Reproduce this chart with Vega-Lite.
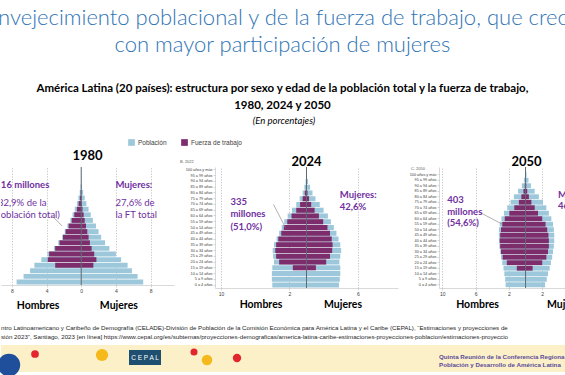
{
"$schema": "https://vega.github.io/schema/vega-lite/v6.json",
"background": "white",
"padding": {"left": -15, "top": 7, "right": 0, "bottom": 0},
"config": {
  "view": {"stroke": null},
  "font": "Lato",
  "axisX": {"grid": true, "gridDash": [1.2, 1.5], "gridColor": "#A0A0A0", "gridWidth": 0.6, "domainColor": "#BFBFBF", "domainWidth": 0.6, "tickColor": "#BFBFBF", "tickSize": 2, "tickWidth": 0.6, "labelFont": "Liberation Sans", "labelFontSize": 5, "labelColor": "#404040", "labelPadding": 1, "labelOverlap": false, "labelBound": false, "title": null, "labelExpr": "abs(datum.value)"},
  "axisY": {"grid": false, "domainColor": "#BFBFBF", "domainWidth": 0.6, "tickColor": "#BFBFBF", "tickSize": 2, "tickWidth": 0.6, "labelFont": "Liberation Sans", "labelFontSize": 3.8, "labelColor": "#404040", "labelPadding": 1, "labelOverlap": false, "title": null},
  "legend": {"orient": "none", "legendX": 127, "legendY": -28, "direction": "horizontal", "symbolType": "square", "symbolSize": 45, "symbolStrokeWidth": 0, "labelFont": "Liberation Sans", "labelFontSize": 6.5, "labelColor": "#404040", "columnPadding": 14, "labelOffset": 3, "padding": 0}
},
"datasets": {
  "pyr": [
{"anio":1980,"sexo":"Hombres","edad":"0 a 4 años","pob":-7.45,"ft":0},
{"anio":1980,"sexo":"Hombres","edad":"5 a 9 años","pob":-6.65,"ft":0},
{"anio":1980,"sexo":"Hombres","edad":"10 a 14 años","pob":-5.9,"ft":0},
{"anio":1980,"sexo":"Hombres","edad":"15 a 19 años","pob":-5.4,"ft":-3.0},
{"anio":1980,"sexo":"Hombres","edad":"20 a 24 años","pob":-4.6,"ft":-3.85},
{"anio":1980,"sexo":"Hombres","edad":"25 a 29 años","pob":-3.9,"ft":-3.7},
{"anio":1980,"sexo":"Hombres","edad":"30 a 34 años","pob":-3.15,"ft":-3.0},
{"anio":1980,"sexo":"Hombres","edad":"35 a 39 años","pob":-2.65,"ft":-2.5},
{"anio":1980,"sexo":"Hombres","edad":"40 a 44 años","pob":-2.2,"ft":-2.1},
{"anio":1980,"sexo":"Hombres","edad":"45 a 49 años","pob":-1.9,"ft":-1.8},
{"anio":1980,"sexo":"Hombres","edad":"50 a 54 años","pob":-1.6,"ft":-1.45},
{"anio":1980,"sexo":"Hombres","edad":"55 a 59 años","pob":-1.25,"ft":-1.1},
{"anio":1980,"sexo":"Hombres","edad":"60 a 64 años","pob":-1.0,"ft":-0.8},
{"anio":1980,"sexo":"Hombres","edad":"65 a 69 años","pob":-0.75,"ft":-0.5},
{"anio":1980,"sexo":"Hombres","edad":"70 a 74 años","pob":-0.5,"ft":-0.3},
{"anio":1980,"sexo":"Hombres","edad":"75 a 79 años","pob":-0.32,"ft":-0.15},
{"anio":1980,"sexo":"Hombres","edad":"80 a 84 años","pob":-0.17,"ft":-0.06},
{"anio":1980,"sexo":"Hombres","edad":"85 a 89 años","pob":-0.07,"ft":-0.02},
{"anio":1980,"sexo":"Hombres","edad":"90 a 94 años","pob":-0.02,"ft":0},
{"anio":1980,"sexo":"Hombres","edad":"95 a 99 años","pob":-0.01,"ft":0},
{"anio":1980,"sexo":"Hombres","edad":"100 años y más","pob":0,"ft":0},
{"anio":1980,"sexo":"Mujeres","edad":"0 a 4 años","pob":7.15,"ft":0},
{"anio":1980,"sexo":"Mujeres","edad":"5 a 9 años","pob":6.5,"ft":0},
{"anio":1980,"sexo":"Mujeres","edad":"10 a 14 años","pob":5.85,"ft":0},
{"anio":1980,"sexo":"Mujeres","edad":"15 a 19 años","pob":5.35,"ft":1.4},
{"anio":1980,"sexo":"Mujeres","edad":"20 a 24 años","pob":4.6,"ft":1.75},
{"anio":1980,"sexo":"Mujeres","edad":"25 a 29 años","pob":4.0,"ft":1.5},
{"anio":1980,"sexo":"Mujeres","edad":"30 a 34 años","pob":3.25,"ft":1.2},
{"anio":1980,"sexo":"Mujeres","edad":"35 a 39 años","pob":2.75,"ft":1.0},
{"anio":1980,"sexo":"Mujeres","edad":"40 a 44 años","pob":2.3,"ft":0.85},
{"anio":1980,"sexo":"Mujeres","edad":"45 a 49 años","pob":2.0,"ft":0.7},
{"anio":1980,"sexo":"Mujeres","edad":"50 a 54 años","pob":1.7,"ft":0.55},
{"anio":1980,"sexo":"Mujeres","edad":"55 a 59 años","pob":1.35,"ft":0.4},
{"anio":1980,"sexo":"Mujeres","edad":"60 a 64 años","pob":1.1,"ft":0.28},
{"anio":1980,"sexo":"Mujeres","edad":"65 a 69 años","pob":0.85,"ft":0.15},
{"anio":1980,"sexo":"Mujeres","edad":"70 a 74 años","pob":0.6,"ft":0.08},
{"anio":1980,"sexo":"Mujeres","edad":"75 a 79 años","pob":0.4,"ft":0.04},
{"anio":1980,"sexo":"Mujeres","edad":"80 a 84 años","pob":0.22,"ft":0.01},
{"anio":1980,"sexo":"Mujeres","edad":"85 a 89 años","pob":0.1,"ft":0},
{"anio":1980,"sexo":"Mujeres","edad":"90 a 94 años","pob":0.03,"ft":0},
{"anio":1980,"sexo":"Mujeres","edad":"95 a 99 años","pob":0.01,"ft":0},
{"anio":1980,"sexo":"Mujeres","edad":"100 años y más","pob":0,"ft":0},
{"anio":2024,"sexo":"Hombres","edad":"0 a 4 años","pob":-4.0,"ft":0},
{"anio":2024,"sexo":"Hombres","edad":"5 a 9 años","pob":-4.05,"ft":0},
{"anio":2024,"sexo":"Hombres","edad":"10 a 14 años","pob":-4.05,"ft":0},
{"anio":2024,"sexo":"Hombres","edad":"15 a 19 años","pob":-4.0,"ft":-1.6},
{"anio":2024,"sexo":"Hombres","edad":"20 a 24 años","pob":-3.8,"ft":-3.2},
{"anio":2024,"sexo":"Hombres","edad":"25 a 29 años","pob":-3.9,"ft":-3.55},
{"anio":2024,"sexo":"Hombres","edad":"30 a 34 años","pob":-3.95,"ft":-3.65},
{"anio":2024,"sexo":"Hombres","edad":"35 a 39 años","pob":-3.8,"ft":-3.55},
{"anio":2024,"sexo":"Hombres","edad":"40 a 44 años","pob":-3.5,"ft":-3.3},
{"anio":2024,"sexo":"Hombres","edad":"45 a 49 años","pob":-3.2,"ft":-2.95},
{"anio":2024,"sexo":"Hombres","edad":"50 a 54 años","pob":-2.9,"ft":-2.65},
{"anio":2024,"sexo":"Hombres","edad":"55 a 59 años","pob":-2.6,"ft":-2.25},
{"anio":2024,"sexo":"Hombres","edad":"60 a 64 años","pob":-2.2,"ft":-1.75},
{"anio":2024,"sexo":"Hombres","edad":"65 a 69 años","pob":-1.7,"ft":-1.2},
{"anio":2024,"sexo":"Hombres","edad":"70 a 74 años","pob":-1.2,"ft":-0.75},
{"anio":2024,"sexo":"Hombres","edad":"75 a 79 años","pob":-0.8,"ft":-0.45},
{"anio":2024,"sexo":"Hombres","edad":"80 a 84 años","pob":-0.45,"ft":-0.2},
{"anio":2024,"sexo":"Hombres","edad":"85 a 89 años","pob":-0.25,"ft":-0.07},
{"anio":2024,"sexo":"Hombres","edad":"90 a 94 años","pob":-0.1,"ft":-0.02},
{"anio":2024,"sexo":"Hombres","edad":"95 a 99 años","pob":-0.03,"ft":0},
{"anio":2024,"sexo":"Hombres","edad":"100 años y más","pob":-0.01,"ft":0},
{"anio":2024,"sexo":"Mujeres","edad":"0 a 4 años","pob":3.8,"ft":0},
{"anio":2024,"sexo":"Mujeres","edad":"5 a 9 años","pob":3.9,"ft":0},
{"anio":2024,"sexo":"Mujeres","edad":"10 a 14 años","pob":3.95,"ft":0},
{"anio":2024,"sexo":"Mujeres","edad":"15 a 19 años","pob":3.95,"ft":1.1},
{"anio":2024,"sexo":"Mujeres","edad":"20 a 24 años","pob":3.85,"ft":2.3},
{"anio":2024,"sexo":"Mujeres","edad":"25 a 29 años","pob":3.95,"ft":2.75},
{"anio":2024,"sexo":"Mujeres","edad":"30 a 34 años","pob":4.05,"ft":3.0},
{"anio":2024,"sexo":"Mujeres","edad":"35 a 39 años","pob":3.95,"ft":3.05},
{"anio":2024,"sexo":"Mujeres","edad":"40 a 44 años","pob":3.75,"ft":2.95},
{"anio":2024,"sexo":"Mujeres","edad":"45 a 49 años","pob":3.5,"ft":2.75},
{"anio":2024,"sexo":"Mujeres","edad":"50 a 54 años","pob":3.2,"ft":2.45},
{"anio":2024,"sexo":"Mujeres","edad":"55 a 59 años","pob":2.85,"ft":1.95},
{"anio":2024,"sexo":"Mujeres","edad":"60 a 64 años","pob":2.5,"ft":1.45},
{"anio":2024,"sexo":"Mujeres","edad":"65 a 69 años","pob":2.0,"ft":0.95},
{"anio":2024,"sexo":"Mujeres","edad":"70 a 74 años","pob":1.55,"ft":0.55},
{"anio":2024,"sexo":"Mujeres","edad":"75 a 79 años","pob":1.05,"ft":0.3},
{"anio":2024,"sexo":"Mujeres","edad":"80 a 84 años","pob":0.7,"ft":0.12},
{"anio":2024,"sexo":"Mujeres","edad":"85 a 89 años","pob":0.42,"ft":0.05},
{"anio":2024,"sexo":"Mujeres","edad":"90 a 94 años","pob":0.18,"ft":0.01},
{"anio":2024,"sexo":"Mujeres","edad":"95 a 99 años","pob":0.06,"ft":0},
{"anio":2024,"sexo":"Mujeres","edad":"100 años y más","pob":0.02,"ft":0},
{"anio":2050,"sexo":"Hombres","edad":"0 a 4 años","pob":-2.4,"ft":0},
{"anio":2050,"sexo":"Hombres","edad":"5 a 9 años","pob":-2.45,"ft":0},
{"anio":2050,"sexo":"Hombres","edad":"10 a 14 años","pob":-2.55,"ft":0},
{"anio":2050,"sexo":"Hombres","edad":"15 a 19 años","pob":-2.65,"ft":-1.05},
{"anio":2050,"sexo":"Hombres","edad":"20 a 24 años","pob":-2.8,"ft":-2.25},
{"anio":2050,"sexo":"Hombres","edad":"25 a 29 años","pob":-2.95,"ft":-2.75},
{"anio":2050,"sexo":"Hombres","edad":"30 a 34 años","pob":-3.05,"ft":-2.95},
{"anio":2050,"sexo":"Hombres","edad":"35 a 39 años","pob":-3.15,"ft":-3.05},
{"anio":2050,"sexo":"Hombres","edad":"40 a 44 años","pob":-3.2,"ft":-3.1},
{"anio":2050,"sexo":"Hombres","edad":"45 a 49 años","pob":-3.2,"ft":-3.05},
{"anio":2050,"sexo":"Hombres","edad":"50 a 54 años","pob":-3.2,"ft":-2.95},
{"anio":2050,"sexo":"Hombres","edad":"55 a 59 años","pob":-3.1,"ft":-2.8},
{"anio":2050,"sexo":"Hombres","edad":"60 a 64 años","pob":-2.9,"ft":-2.5},
{"anio":2050,"sexo":"Hombres","edad":"65 a 69 años","pob":-2.6,"ft":-1.95},
{"anio":2050,"sexo":"Hombres","edad":"70 a 74 años","pob":-2.2,"ft":-1.35},
{"anio":2050,"sexo":"Hombres","edad":"75 a 79 años","pob":-1.8,"ft":-0.8},
{"anio":2050,"sexo":"Hombres","edad":"80 a 84 años","pob":-1.4,"ft":-0.5},
{"anio":2050,"sexo":"Hombres","edad":"85 a 89 años","pob":-0.9,"ft":-0.25},
{"anio":2050,"sexo":"Hombres","edad":"90 a 94 años","pob":-0.45,"ft":-0.1},
{"anio":2050,"sexo":"Hombres","edad":"95 a 99 años","pob":-0.2,"ft":0},
{"anio":2050,"sexo":"Hombres","edad":"100 años y más","pob":-0.06,"ft":0},
{"anio":2050,"sexo":"Mujeres","edad":"0 a 4 años","pob":2.35,"ft":0},
{"anio":2050,"sexo":"Mujeres","edad":"5 a 9 años","pob":2.55,"ft":0},
{"anio":2050,"sexo":"Mujeres","edad":"10 a 14 años","pob":2.7,"ft":0},
{"anio":2050,"sexo":"Mujeres","edad":"15 a 19 años","pob":2.9,"ft":0.85},
{"anio":2050,"sexo":"Mujeres","edad":"20 a 24 años","pob":3.05,"ft":2.0},
{"anio":2050,"sexo":"Mujeres","edad":"25 a 29 años","pob":3.2,"ft":2.5},
{"anio":2050,"sexo":"Mujeres","edad":"30 a 34 años","pob":3.3,"ft":2.7},
{"anio":2050,"sexo":"Mujeres","edad":"35 a 39 años","pob":3.4,"ft":2.8},
{"anio":2050,"sexo":"Mujeres","edad":"40 a 44 años","pob":3.45,"ft":2.8},
{"anio":2050,"sexo":"Mujeres","edad":"45 a 49 años","pob":3.45,"ft":2.75},
{"anio":2050,"sexo":"Mujeres","edad":"50 a 54 años","pob":3.4,"ft":2.6},
{"anio":2050,"sexo":"Mujeres","edad":"55 a 59 años","pob":3.3,"ft":2.4},
{"anio":2050,"sexo":"Mujeres","edad":"60 a 64 años","pob":3.1,"ft":2.0},
{"anio":2050,"sexo":"Mujeres","edad":"65 a 69 años","pob":2.8,"ft":1.5},
{"anio":2050,"sexo":"Mujeres","edad":"70 a 74 años","pob":2.5,"ft":1.1},
{"anio":2050,"sexo":"Mujeres","edad":"75 a 79 años","pob":2.1,"ft":0.7},
{"anio":2050,"sexo":"Mujeres","edad":"80 a 84 años","pob":1.6,"ft":0.4},
{"anio":2050,"sexo":"Mujeres","edad":"85 a 89 años","pob":1.1,"ft":0.2},
{"anio":2050,"sexo":"Mujeres","edad":"90 a 94 años","pob":0.65,"ft":0.08},
{"anio":2050,"sexo":"Mujeres","edad":"95 a 99 años","pob":0.35,"ft":0},
{"anio":2050,"sexo":"Mujeres","edad":"100 años y más","pob":0.12,"ft":0}
  ]
},
"title": {
  "text": ["Envejecimiento poblacional y de la fuerza de trabajo, que crece", "con mayor participación de mujeres"],
  "subtitle": ["América Latina (20 países): estructura por sexo y edad de la población total y la fuerza de trabajo,", "1980, 2024 y 2050"],
  "anchor": "middle", "dx": -9, "font": "Lato", "fontSize": 22, "fontWeight": 300, "color": "#2F74B5", "lineHeight": 27,
  "subtitleFont": "Lato", "subtitleFontSize": 11.5, "subtitleFontWeight": "bold", "subtitleColor": "#000000", "subtitleLineHeight": 16.5, "subtitlePadding": 26, "offset": 3.5
},
"spacing": 5,
"vconcat": [
  {
    "title": {"text": ["ntro Latinoamericano y Caribeño de Demografía (CELADE)-División de Población de la Comisión Económica para América Latina y el Caribe (CEPAL), “Estimaciones y proyecciones de", "sión 2023”, Santiago, 2023 [en línea] https://www.cepal.org/es/subtemas/proyecciones-demograficas/america-latina-caribe-estimaciones-proyecciones-poblacion/estimaciones-proyeccio"], "orient": "bottom", "anchor": "start", "font": "Liberation Sans", "fontSize": 6.2, "fontWeight": "normal", "color": "#262626", "lineHeight": 9, "offset": 13},
    "vconcat": [
      {
        "title": {"text": "(En porcentajes)", "font": "Lato", "fontSize": 9.5, "fontStyle": "italic", "fontWeight": "normal", "color": "#000000", "anchor": "middle", "dx": -9, "offset": 25},
        "spacing": 41,
        "bounds": "flush",
        "hconcat": [
          {
            "width": 173, "height": 118,
            "title": {"text": "1980", "font": "Lato", "fontSize": 13, "fontWeight": "bold", "color": "#000000", "offset": 3.5},
            "data": {"name": "pyr"},
            "layer": [
              {"transform": [{"filter": {"field": "anio", "equal": 1980}}], "mark": {"type": "bar"},
               "encoding": {
                 "y": {"field": "edad", "type": "nominal", "scale": {"domain": ["100 años y más","95 a 99 años","90 a 94 años","85 a 89 años","80 a 84 años","75 a 79 años","70 a 74 años","65 a 69 años","60 a 64 años","55 a 59 años","50 a 54 años","45 a 49 años","40 a 44 años","35 a 39 años","30 a 34 años","25 a 29 años","20 a 24 años","15 a 19 años","10 a 14 años","5 a 9 años","0 a 4 años"], "paddingInner": 0.12, "paddingOuter": 0.095}, "axis": null},
                 "x": {"field": "pob", "type": "quantitative", "stack": null, "scale": {"domain": [-9.25, 10.7], "nice": false, "zero": false}, "axis": {"values": [-8,-6,-4,-2,0,2,4,6,8,10]}},
                 "color": {"datum": "Población", "type": "nominal", "scale": {"domain": ["Población", "Fuerza de trabajo"], "range": ["#9DC8DB", "#7D2C6C"]}, "legend": {"title": null}}
               }},
              {"transform": [{"filter": {"field": "anio", "equal": 1980}}], "mark": {"type": "bar"},
               "encoding": {
                 "y": {"field": "edad", "type": "nominal", "axis": null},
                 "x": {"field": "ft", "type": "quantitative", "stack": null},
                 "color": {"datum": "Fuerza de trabajo", "type": "nominal"}
               }},
              {"data": {"values": [{}]}, "mark": {"type": "rule", "color": "#5E6B73", "strokeWidth": 1}, "encoding": {"x": {"datum": 0}}},
              {"data": {"values": [{}]}, "mark": {"type": "rule", "color": "#8C8C8C", "strokeWidth": 0.7}, "encoding": {"x": {"datum": -3.47}, "x2": {"datum": -2.2}, "y": {"datum": "60 a 64 años"}, "y2": {"datum": "50 a 54 años"}}},
              {"data": {"values": [{}]}, "mark": {"type": "text", "align": "left", "baseline": "middle", "font": "Lato", "fontSize": 9.5, "fontWeight": "bold", "color": "#7030A0", "clip": true, "dy": -1.5}, "encoding": {"x": {"datum": -9.9}, "y": {"datum": "85 a 89 años"}, "text": {"value": "116 millones"}}},
              {"data": {"values": [{}]}, "mark": {"type": "text", "align": "left", "baseline": "middle", "font": "Lato", "fontSize": 9.5, "fontWeight": "normal", "color": "#7030A0", "clip": true, "lineHeight": 12, "dy": -1}, "encoding": {"x": {"datum": -9.9}, "y": {"datum": "70 a 74 años"}, "text": {"value": ["(32,9% de la", "población total)"]}}},
              {"data": {"values": [{}]}, "mark": {"type": "text", "align": "left", "baseline": "middle", "font": "Lato", "fontSize": 9.5, "fontWeight": "bold", "color": "#7030A0", "dy": -1.5}, "encoding": {"x": {"datum": 3.95}, "y": {"datum": "85 a 89 años"}, "text": {"value": "Mujeres:"}}},
              {"data": {"values": [{}]}, "mark": {"type": "text", "align": "left", "baseline": "middle", "font": "Lato", "fontSize": 9.5, "fontWeight": "normal", "color": "#7030A0", "lineHeight": 12, "dy": -1}, "encoding": {"x": {"datum": 3.95}, "y": {"datum": "70 a 74 años"}, "text": {"value": ["27,6% de", "la FT total"]}}},
              {"data": {"values": [{}]}, "mark": {"type": "text", "align": "center", "baseline": "middle", "font": "Lato", "fontSize": 10.5, "fontWeight": "bold", "color": "#000000", "dy": 24}, "encoding": {"x": {"datum": -4.97}, "y": {"datum": "0 a 4 años"}, "text": {"value": "Hombres"}}},
              {"data": {"values": [{}]}, "mark": {"type": "text", "align": "center", "baseline": "middle", "font": "Lato", "fontSize": 10.5, "fontWeight": "bold", "color": "#000000", "dy": 24}, "encoding": {"x": {"datum": 4.34}, "y": {"datum": "0 a 4 años"}, "text": {"value": "Mujeres"}}}
            ]
          },
          {
            "width": 183, "height": 121,
            "title": {"text": "2024", "font": "Lato", "fontSize": 13, "fontWeight": "bold", "color": "#000000", "offset": -9},
            "data": {"name": "pyr"},
            "layer": [
              {"transform": [{"filter": {"field": "anio", "equal": 2024}}], "mark": {"type": "bar"},
               "encoding": {
                 "y": {"field": "edad", "type": "nominal", "scale": {"domain": ["100 años y más","95 a 99 años","90 a 94 años","85 a 89 años","80 a 84 años","75 a 79 años","70 a 74 años","65 a 69 años","60 a 64 años","55 a 59 años","50 a 54 años","45 a 49 años","40 a 44 años","35 a 39 años","30 a 34 años","25 a 29 años","20 a 24 años","15 a 19 años","10 a 14 años","5 a 9 años","0 a 4 años"], "paddingInner": 0.12, "paddingOuter": 0.08}, "axis": {}},
                 "x": {"field": "pob", "type": "quantitative", "stack": null, "scale": {"domain": [-10.7, 10.7], "nice": false, "zero": false}, "axis": {"values": [-10,-8,-6,-4,-2,0,2,4,6,8,10]}},
                 "color": {"datum": "Población", "type": "nominal", "legend": {"title": null}}
               }},
              {"transform": [{"filter": {"field": "anio", "equal": 2024}}], "mark": {"type": "bar"},
               "encoding": {
                 "y": {"field": "edad", "type": "nominal"},
                 "x": {"field": "ft", "type": "quantitative", "stack": null},
                 "color": {"datum": "Fuerza de trabajo", "type": "nominal"}
               }},
              {"data": {"values": [{}]}, "mark": {"type": "rule", "color": "#5E6B73", "strokeWidth": 1}, "encoding": {"x": {"datum": 0}}},
              {"data": {"values": [{}]}, "mark": {"type": "rule", "color": "#8C8C8C", "strokeWidth": 0.7}, "encoding": {"x": {"datum": -3.86}, "x2": {"datum": -2.46}, "y": {"datum": "70 a 74 años"}, "y2": {"datum": "50 a 54 años"}}},
              {"data": {"values": [{}]}, "mark": {"type": "text", "align": "left", "baseline": "middle", "font": "Lato", "fontSize": 9.5, "fontWeight": "bold", "color": "#7030A0", "lineHeight": 12.5, "dy": -2.8}, "encoding": {"x": {"datum": -8.9}, "y": {"datum": "70 a 74 años"}, "text": {"value": ["335", "millones", "(51,0%)"]}}},
              {"data": {"values": [{}]}, "mark": {"type": "text", "align": "left", "baseline": "middle", "font": "Lato", "fontSize": 9.5, "fontWeight": "bold", "color": "#7030A0", "lineHeight": 12, "dy": 2}, "encoding": {"x": {"datum": 3.9}, "y": {"datum": "80 a 84 años"}, "text": {"value": ["Mujeres:", "42,6%"]}}},
              {"data": {"values": [{}]}, "mark": {"type": "text", "align": "left", "baseline": "middle", "font": "Liberation Sans", "fontSize": 4, "color": "#595959", "dx": -35, "dy": -8}, "encoding": {"x": {"datum": -10.7}, "y": {"datum": "100 años y más"}, "text": {"value": "B. 2022"}}},
              {"data": {"values": [{}]}, "mark": {"type": "text", "align": "center", "baseline": "middle", "font": "Lato", "fontSize": 10.5, "fontWeight": "bold", "color": "#000000", "dy": 20}, "encoding": {"x": {"datum": -5.32}, "y": {"datum": "0 a 4 años"}, "text": {"value": "Hombres"}}},
              {"data": {"values": [{}]}, "mark": {"type": "text", "align": "center", "baseline": "middle", "font": "Lato", "fontSize": 10.5, "fontWeight": "bold", "color": "#000000", "dy": 20}, "encoding": {"x": {"datum": 4.27}, "y": {"datum": "0 a 4 años"}, "text": {"value": "Mujeres"}}}
            ]
          },
          {
            "width": 127, "height": 121,
            "title": {"text": "2050", "font": "Lato", "fontSize": 13, "fontWeight": "bold", "color": "#000000", "offset": -2.5, "dx": 24},
            "data": {"name": "pyr"},
            "layer": [
              {"transform": [{"filter": {"field": "anio", "equal": 2050}}], "mark": {"type": "bar"},
               "encoding": {
                 "y": {"field": "edad", "type": "nominal", "scale": {"domain": ["100 años y más","95 a 99 años","90 a 94 años","85 a 89 años","80 a 84 años","75 a 79 años","70 a 74 años","65 a 69 años","60 a 64 años","55 a 59 años","50 a 54 años","45 a 49 años","40 a 44 años","35 a 39 años","30 a 34 años","25 a 29 años","20 a 24 años","15 a 19 años","10 a 14 años","5 a 9 años","0 a 4 años"], "paddingInner": 0.12, "paddingOuter": 0.56, "align": 0.86}, "axis": {}},
                 "x": {"field": "pob", "type": "quantitative", "stack": null, "scale": {"domain": [-10.4, 4.86], "nice": false, "zero": false}, "axis": {"values": [-10,-8,-6,-4,-2,0,2,4]}},
                 "color": {"datum": "Población", "type": "nominal", "legend": {"title": null}}
               }},
              {"transform": [{"filter": {"field": "anio", "equal": 2050}}], "mark": {"type": "bar"},
               "encoding": {
                 "y": {"field": "edad", "type": "nominal"},
                 "x": {"field": "ft", "type": "quantitative", "stack": null},
                 "color": {"datum": "Fuerza de trabajo", "type": "nominal"}
               }},
              {"data": {"values": [{}]}, "mark": {"type": "rule", "color": "#5E6B73", "strokeWidth": 1}, "encoding": {"x": {"datum": 0}}},
              {"data": {"values": [{}]}, "mark": {"type": "rule", "color": "#8C8C8C", "strokeWidth": 0.7}, "encoding": {"x": {"datum": -5.3}, "x2": {"datum": -2.8}, "y": {"datum": "65 a 69 años"}, "y2": {"datum": "55 a 59 años"}}},
              {"data": {"values": [{}]}, "mark": {"type": "text", "align": "left", "baseline": "middle", "font": "Lato", "fontSize": 9.5, "fontWeight": "bold", "color": "#7030A0", "lineHeight": 11.3, "dy": -2}, "encoding": {"x": {"datum": -9.42}, "y": {"datum": "75 a 79 años"}, "text": {"value": ["403", "millones", "(54,6%)"]}}},
              {"data": {"values": [{}]}, "mark": {"type": "text", "align": "left", "baseline": "middle", "font": "Lato", "fontSize": 9.5, "fontWeight": "bold", "color": "#7030A0", "lineHeight": 11.3, "dy": -2.2, "clip": true}, "encoding": {"x": {"datum": 3.9}, "y": {"datum": "80 a 84 años"}, "text": {"value": ["Mujeres:", "46,0%"]}}},
              {"data": {"values": [{}]}, "mark": {"type": "text", "align": "left", "baseline": "middle", "font": "Liberation Sans", "fontSize": 4, "color": "#595959", "dx": -28, "dy": -5.5}, "encoding": {"x": {"datum": -10.4}, "y": {"datum": "100 años y más"}, "text": {"value": "C. 2050"}}},
              {"data": {"values": [{}]}, "mark": {"type": "text", "align": "center", "baseline": "middle", "font": "Lato", "fontSize": 10.5, "fontWeight": "bold", "color": "#000000", "dy": 20}, "encoding": {"x": {"datum": -5.77}, "y": {"datum": "0 a 4 años"}, "text": {"value": "Hombres"}}},
              {"data": {"values": [{}]}, "mark": {"type": "text", "align": "left", "baseline": "middle", "font": "Lato", "fontSize": 10.5, "fontWeight": "bold", "color": "#000000", "dy": 20}, "encoding": {"x": {"datum": 2.58}, "y": {"datum": "0 a 4 años"}, "text": {"value": "Mujeres"}}}
            ]
          }
        ]
      }
    ]
  },
  {
    "width": 565, "height": 27,
    "view": {"fill": "#FCF0C8", "stroke": null},
    "data": {"values": [{}]},
    "layer": [
      {"mark": {"type": "rect", "color": "#1F4F70"}, "encoding": {"x": {"datum": 128, "type": "quantitative", "scale": {"domain": [0, 565], "nice": false, "zero": false}, "axis": null}, "x2": {"datum": 160}, "y": {"datum": 5, "type": "quantitative", "scale": {"domain": [0, 27], "reverse": true, "nice": false, "zero": false}, "axis": null}, "y2": {"datum": 20}}},
      {"mark": {"type": "text", "color": "white", "font": "Liberation Sans", "fontSize": 6.5, "baseline": "middle"}, "encoding": {"x": {"datum": 144, "type": "quantitative"}, "y": {"datum": 12.5, "type": "quantitative"}, "text": {"value": "C E P A L"}}},
      {"mark": {"type": "circle", "color": "#E3262E", "opacity": 1}, "encoding": {"x": {"datum": 34, "type": "quantitative"}, "y": {"datum": 9, "type": "quantitative"}, "size": {"value": 60}}},
      {"mark": {"type": "circle", "color": "#F5B91C", "opacity": 1}, "encoding": {"x": {"datum": 101, "type": "quantitative"}, "y": {"datum": 10, "type": "quantitative"}, "size": {"value": 150}}},
      {"mark": {"type": "circle", "color": "#E3262E", "opacity": 1}, "encoding": {"x": {"datum": 193, "type": "quantitative"}, "y": {"datum": 7, "type": "quantitative"}, "size": {"value": 50}}},
      {"mark": {"type": "circle", "color": "#F5B91C", "opacity": 1}, "encoding": {"x": {"datum": 206, "type": "quantitative"}, "y": {"datum": 15, "type": "quantitative"}, "size": {"value": 110}}},
      {"mark": {"type": "circle", "color": "#E3262E", "opacity": 1}, "encoding": {"x": {"datum": 236, "type": "quantitative"}, "y": {"datum": 13, "type": "quantitative"}, "size": {"value": 70}}},
      {"mark": {"type": "circle", "color": "#1F4E9A", "opacity": 1}, "encoding": {"x": {"datum": 8, "type": "quantitative"}, "y": {"datum": 20, "type": "quantitative"}, "size": {"value": 500}}},
      {"mark": {"type": "text", "align": "left", "baseline": "middle", "font": "Liberation Sans", "fontSize": 6.2, "fontWeight": "bold", "color": "#5B4B9A", "lineHeight": 8, "limit": 127, "ellipsis": "\u200b"}, "encoding": {"x": {"datum": 438, "type": "quantitative"}, "y": {"datum": 12, "type": "quantitative"}, "text": {"value": ["Quinta Reunión de la Conferencia Regional sobre", "Población y Desarrollo de América Latina y el Caribe"]}}}
    ]
  }
]
}
